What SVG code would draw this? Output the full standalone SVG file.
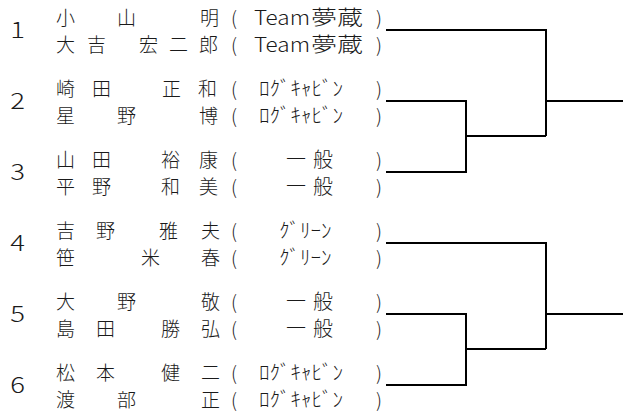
<svg xmlns="http://www.w3.org/2000/svg" width="623" height="416" viewBox="0 0 623 416">
<style>
text{fill:#1a1a1a}
.num{font-family:"Noto Sans CJK JP","Liberation Sans",sans-serif;font-weight:300;font-size:22px;text-anchor:middle}
.nm{font-family:"Noto Sans CJK JP","Noto Sans CJK SC",sans-serif;font-weight:300;font-size:19px}
.p{font-family:"Noto Sans CJK JP",sans-serif;font-weight:300;font-size:19px}
.lat{font-family:"Noto Sans CJK JP","Liberation Sans",sans-serif;font-weight:300;font-size:20px}
.cjk{font-family:"Noto Sans CJK JP",sans-serif;font-weight:300;font-size:20px}
.hk{font-family:"Noto Sans CJK JP",sans-serif;font-weight:300;font-size:20px}
.ip{font-family:"Noto Sans CJK JP",sans-serif;font-weight:300;font-size:20px}
.ln{fill:none;stroke:#000;stroke-width:2}
</style>
<defs>
<g id="tm"><text y="0"><tspan class="lat" x="254" textLength="56" lengthAdjust="spacingAndGlyphs">Team</tspan><tspan class="cjk" x="311" textLength="52" lengthAdjust="spacingAndGlyphs">夢蔵</tspan></text></g>
</defs>
<g id="entry1">
<text class="num" x="17.5" y="38" transform="translate(17.5 0) scale(1.25 1) translate(-17.5 0)">1</text>
<text class="nm" x="56 117 200" y="25">小山明</text>
<text class="nm" x="56 87 139 169 199" y="52">大吉宏二郎</text>
<text class="p" x="231" y="25">(</text><text class="p" x="376" y="25">)</text>
<text class="p" x="231" y="52">(</text><text class="p" x="376" y="52">)</text>
<use href="#tm" y="25"/>
<use href="#tm" y="52"/>
</g>
<g id="entry2">
<text class="num" x="17.5" y="109" transform="translate(17.5 0) scale(1.25 1) translate(-17.5 0)">2</text>
<text class="nm" x="56 92 162 198" y="96">崎田正和</text>
<text class="nm" x="56 117 199" y="123">星野博</text>
<text class="p" x="231" y="96">(</text><text class="p" x="376" y="96">)</text>
<text class="p" x="231" y="123">(</text><text class="p" x="376" y="123">)</text>
<text class="hk" x="259" y="96" textLength="84" lengthAdjust="spacingAndGlyphs">ﾛｸﾞｷｬﾋﾞﾝ</text>
<text class="hk" x="259" y="123" textLength="84" lengthAdjust="spacingAndGlyphs">ﾛｸﾞｷｬﾋﾞﾝ</text>
</g>
<g id="entry3">
<text class="num" x="17.5" y="180" transform="translate(17.5 0) scale(1.25 1) translate(-17.5 0)">3</text>
<text class="nm" x="56 92 161 199" y="167">山田裕康</text>
<text class="nm" x="56 92 161 199" y="194">平野和美</text>
<text class="p" x="231" y="167">(</text><text class="p" x="376" y="167">)</text>
<text class="p" x="231" y="194">(</text><text class="p" x="376" y="194">)</text>
<text class="ip" x="286" y="167" textLength="47" lengthAdjust="spacing">一般</text>
<text class="ip" x="286" y="194" textLength="47" lengthAdjust="spacing">一般</text>
</g>
<g id="entry4">
<text class="num" x="17.5" y="251" transform="translate(17.5 0) scale(1.25 1) translate(-17.5 0)">4</text>
<text class="nm" x="56 96 159 201" y="238">吉野雅夫</text>
<text class="nm" x="56 141 201" y="265">笹米春</text>
<text class="p" x="231" y="238">(</text><text class="p" x="376" y="238">)</text>
<text class="p" x="231" y="265">(</text><text class="p" x="376" y="265">)</text>
<text class="hk" x="279" y="238" textLength="52.5" lengthAdjust="spacingAndGlyphs">ｸﾞﾘｰﾝ</text>
<text class="hk" x="279" y="265" textLength="52.5" lengthAdjust="spacingAndGlyphs">ｸﾞﾘｰﾝ</text>
</g>
<g id="entry5">
<text class="num" x="17.5" y="322" transform="translate(17.5 0) scale(1.25 1) translate(-17.5 0)">5</text>
<text class="nm" x="56 117 201" y="309">大野敬</text>
<text class="nm" x="56 96 161 201" y="336">島田勝弘</text>
<text class="p" x="231" y="309">(</text><text class="p" x="376" y="309">)</text>
<text class="p" x="231" y="336">(</text><text class="p" x="376" y="336">)</text>
<text class="ip" x="286" y="309" textLength="47" lengthAdjust="spacing">一般</text>
<text class="ip" x="286" y="336" textLength="47" lengthAdjust="spacing">一般</text>
</g>
<g id="entry6">
<text class="num" x="17.5" y="393" transform="translate(17.5 0) scale(1.25 1) translate(-17.5 0)">6</text>
<text class="nm" x="56 96 161 201" y="380">松本健二</text>
<text class="nm" x="56 117 201" y="407">渡部正</text>
<text class="p" x="231" y="380">(</text><text class="p" x="376" y="380">)</text>
<text class="p" x="231" y="407">(</text><text class="p" x="376" y="407">)</text>
<text class="hk" x="259" y="380" textLength="84" lengthAdjust="spacingAndGlyphs">ﾛｸﾞｷｬﾋﾞﾝ</text>
<text class="hk" x="259" y="407" textLength="84" lengthAdjust="spacingAndGlyphs">ﾛｸﾞｷｬﾋﾞﾝ</text>
</g>
<g id="connectors">
<path class="ln" d="M386 30H546V136"/>
<path class="ln" d="M386 101H466V172H386"/>
<path class="ln" d="M466 136H546"/>
<path class="ln" d="M546 101H623"/>
<path class="ln" d="M386 243H546V349"/>
<path class="ln" d="M386 314H466V385H386"/>
<path class="ln" d="M466 349H546"/>
<path class="ln" d="M546 314H623"/>
</g>
</svg>
